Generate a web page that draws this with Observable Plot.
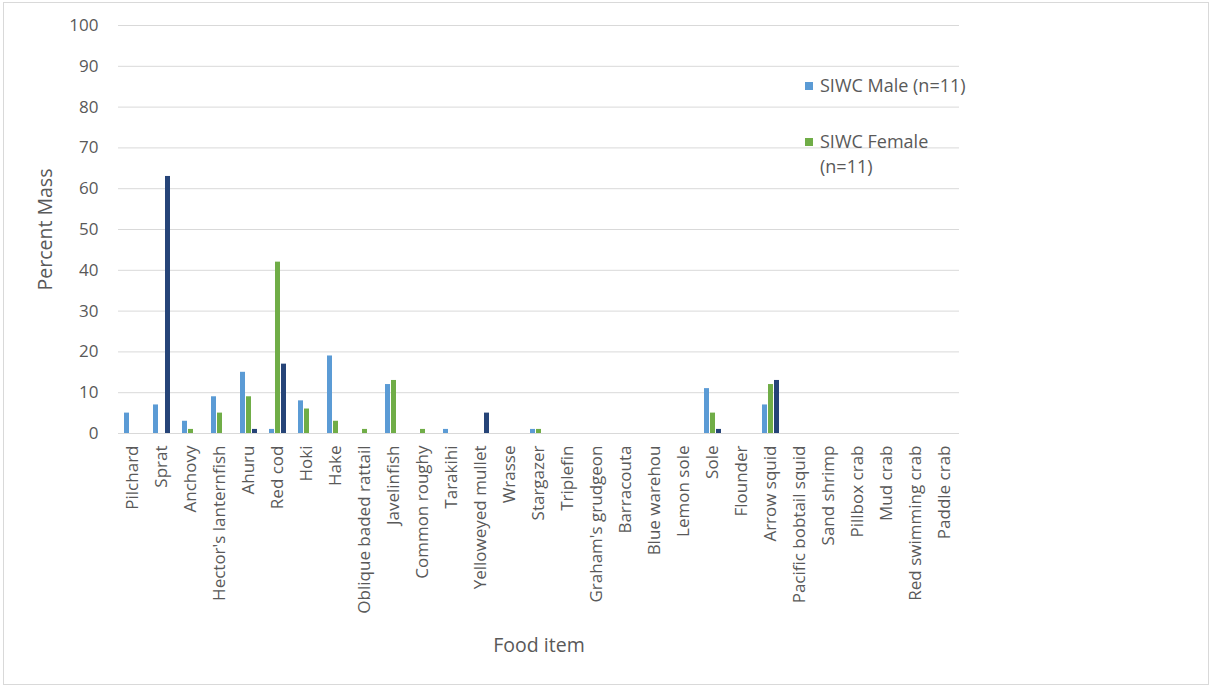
<!DOCTYPE html>
<html><head><meta charset="utf-8">
<script src="https://cdn.jsdelivr.net/npm/d3@7"></script>
<script src="https://cdn.jsdelivr.net/npm/@observablehq/plot@0.6"></script>
<style>
body{margin:0;background:#fff;}
#wrap{position:relative;width:1211px;height:686px;font-family:"Open Sans",sans-serif;color:#595959;overflow:hidden;}
#border{position:absolute;left:3px;top:2px;width:1204px;height:681px;border:1px solid #d9d9d9;pointer-events:none;}
#legend{position:absolute;left:805px;top:73px;font-size:18px;line-height:25px;}
.item{position:relative;padding-left:15px;white-space:nowrap;}
.item + .item{margin-top:31px;}
.sw{position:absolute;left:0;top:9px;width:8px;height:8px;}
g[aria-label="y-axis label"], g[aria-label="fx-axis label"]{font-size:19.5px;}
</style></head>
<body>
<div id="wrap"><div id="chart"></div><div id="border"></div><div id="legend"></div></div>
<script>
const categories = ["Pilchard","Sprat","Anchovy","Hector's lanternfish","Ahuru","Red cod","Hoki","Hake","Oblique baded rattail","Javelinfish","Common roughy","Tarakihi","Yelloweyed mullet","Wrasse","Stargazer","Triplefin","Graham's grudgeon","Barracouta","Blue warehou","Lemon sole","Sole","Flounder","Arrow squid","Pacific bobtail squid","Sand shrimp","Pillbox crab","Mud crab","Red swimming crab","Paddle crab"];
const seriesNames = ["SIWC Male (n=11)","SIWC Female (n=11)","Series 3"];
const maleValues   = [5,7,3,9,15,1,8,19,0,12,0,1,0,0,1,0,0,0,0,0,11,0,7,0,0,0,0,0,0];
const femaleValues = [0,0,1,5,9,42,6,3,1,13,1,0,0,0,1,0,0,0,0,0,5,0,12,0,0,0,0,0,0];
const thirdValues  = [0,63,0,0,1,17,0,0,0,0,0,0,5,0,0,0,0,0,0,0,1,0,13,0,0,0,0,0,0];
const seriesColors = ["#5B9BD5","#70AD47","#264478"];
const yTicks = [0,10,20,30,40,50,60,70,80,90,100];
const legendEntries = [["SIWC Male (n=11)"],["SIWC Female","(n=11)"]];

const seriesValues = [maleValues, femaleValues, thirdValues];
const table = categories.flatMap((c, i) => seriesNames.map((s, j) => ({category: c, series: s, value: seriesValues[j][i]})));

const chart = Plot.plot({
  width: 1211, height: 686,
  marginLeft: 115, marginRight: 249, marginTop: 25, marginBottom: 253,
  style: {fontFamily: '"Open Sans", sans-serif', fontSize: "17px", color: "#595959", background: "transparent", overflow: "visible"},
  fx: {domain: categories, padding: 0},
  x: {domain: seriesNames, axis: null, paddingInner: 0.17, paddingOuter: 0.9},
  y: {domain: [0, 100]},
  color: {domain: seriesNames, range: seriesColors},
  marks: [
    Plot.gridY(yTicks, {stroke: "#d9d9d9", strokeOpacity: 1, strokeWidth: 1}),
    Plot.axisY(yTicks, {tickSize: 0, tickPadding: 20, label: "Percent Mass", labelAnchor: "center", labelOffset: 80, labelArrow: "none", fill: "#595959"}),
    Plot.axisFx({anchor: "bottom", tickRotate: -90, tickSize: 0, tickPadding: 12, label: "Food item", labelAnchor: "center", labelOffset: 218, labelArrow: "none", fill: "#595959"}),
    Plot.barY(table, {fx: "category", x: "series", y: "value", fill: "series"})
  ]
});
document.getElementById("chart").appendChild(chart);

const legend = document.getElementById("legend");
legendEntries.forEach((lines, i) => {
  const d = document.createElement("div");
  d.className = "item";
  const sw = document.createElement("span");
  sw.className = "sw";
  sw.style.background = seriesColors[i];
  d.appendChild(sw);
  lines.forEach((t, k) => {
    if (k) d.appendChild(document.createElement("br"));
    d.appendChild(document.createTextNode(t));
  });
  legend.appendChild(d);
});
</script>
</body></html>
